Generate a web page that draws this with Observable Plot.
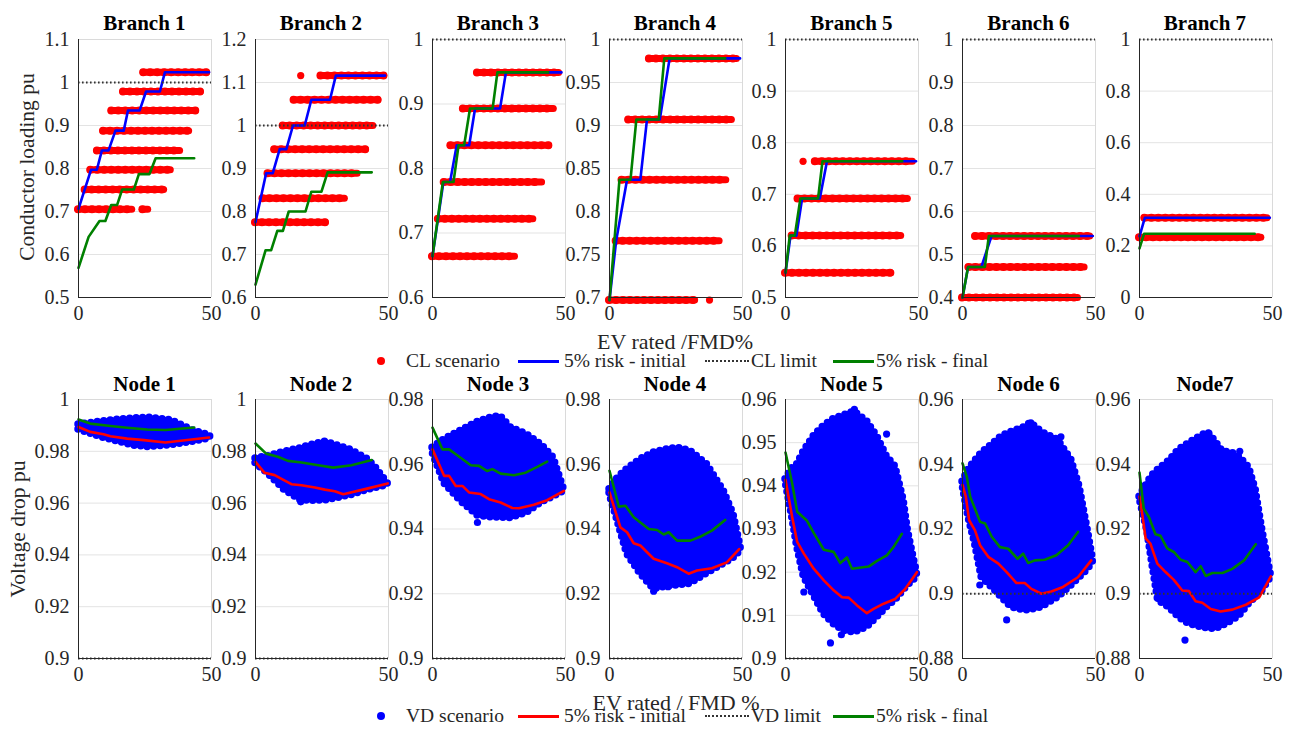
<!DOCTYPE html>
<html><head><meta charset="utf-8">
<script src="https://cdn.jsdelivr.net/npm/d3@7"></script>
<script src="https://cdn.jsdelivr.net/npm/@observablehq/plot@0.6"></script>
<style>
html,body{margin:0;padding:0;background:#fff;}
body{width:1298px;height:729px;position:relative;overflow:hidden;font-family:"Liberation Serif","Tinos","Times New Roman","DejaVu Serif",serif;color:#262626;}
.t{position:absolute;white-space:nowrap;line-height:1;}
svg{position:absolute;overflow:visible;}
</style></head><body>
<script>
// ---------------- DATA ----------------
const branchTitles = ["Branch 1","Branch 2","Branch 3","Branch 4","Branch 5","Branch 6","Branch 7"];
const nodeTitles = ["Node 1","Node 2","Node 3","Node 4","Node 5","Node 6","Node7"];
const xTicks = [0, 50];

// Branch y ticks
const b1Ticks = [0.5,0.6,0.7,0.8,0.9,1,1.1];
const b2Ticks = [0.6,0.7,0.8,0.9,1,1.1,1.2];
const b3Ticks = [0.6,0.7,0.8,0.9,1];
const b4Ticks = [0.7,0.75,0.8,0.85,0.9,0.95,1];
const b5Ticks = [0.5,0.6,0.7,0.8,0.9,1];
const b6Ticks = [0.4,0.5,0.6,0.7,0.8,0.9,1];
const b7Ticks = [0,0.2,0.4,0.6,0.8,1];
const clLimit = 1.0;

// CL scenario bands: [level, xStart, xEnd]
const b1Scen = [[0.705,0,20.2],[0.705,24.2,26.2],[0.751,2.5,32.2],[0.797,4.6,34.7],[0.842,7.1,38.2],[0.888,9.4,41.6],[0.935,12.5,44.1],[0.979,16.9,46],[1.024,24.5,48.3]];
const b2Scen = [[0.775,0,26.4],[0.831,2.8,33.6],[0.889,4.7,38.4],[0.945,7.2,41.5],[1.0,10.4,44.3],[1.06,14.5,46.2],[1.116,24.6,48.4]];
const b3Scen = [[0.664,0,31],[0.722,2.2,37.9],[0.779,4.4,41.2],[0.836,6.9,43.8],[0.893,11.6,45.6],[0.949,16.9,47.6]];
const b4Scen = [[0.697,0,32.2],[0.766,2.5,41.4],[0.837,4.7,43.9],[0.907,7.2,46],[0.978,15,47.9]];
const b5Scen = [[0.548,0,39.8],[0.620,2.5,43.5],[0.692,4.7,46],[0.764,11.2,47.9]];
const b6Scen = [[0.4,0,43.4],[0.471,2.4,45.9],[0.543,4.9,48]];
const b7Scen = [[0.234,0,45.8],[0.309,2,48.1]];
// isolated CL scenario points: [x, y]
const b2Single = [[17,1.116]];
const b4Single = [[37.6,0.697]];
const b5Single = [[6.6,0.764]];

// 5% risk - initial (blue) [x, y]
const b1Init = [[0,0.706],[4.7,0.797],[6.9,0.797],[8.8,0.842],[11.3,0.842],[13.9,0.888],[17,0.888],[18.6,0.935],[23,0.935],[25.4,0.979],[30.6,0.979],[32.5,1.024],[49.1,1.024]];
const b2Init = [[0,0.775],[4,0.889],[6.5,0.889],[9.1,0.945],[11.6,0.945],[14.1,1.0],[18.5,1.0],[21,1.06],[28,1.06],[30.2,1.116],[48.7,1.116]];
const b3Init = [[0,0.664],[4.1,0.779],[6.6,0.779],[9.1,0.836],[13.8,0.836],[16,0.893],[25.4,0.893],[27.6,0.949],[48.5,0.949]];
const b4Init = [[0,0.697],[2.5,0.766],[6.6,0.837],[11.6,0.837],[14.1,0.907],[18.9,0.907],[22.6,0.978],[49.1,0.978]];
const b5Init = [[0,0.548],[1.9,0.620],[4.1,0.620],[6.25,0.692],[12.9,0.692],[15.6,0.764],[49.1,0.764]];
const b6Init = [[0,0.4],[2.1,0.471],[7.1,0.471],[10.9,0.543],[49,0.543]];
const b7Init = [[0,0.237],[2,0.309],[49,0.309]];

// 5% risk - final (green) [x, y]
const b1Final = [[0,0.569],[3.8,0.641],[7.9,0.678],[10.1,0.678],[12.3,0.715],[14.5,0.715],[16.4,0.751],[20.8,0.751],[22.7,0.787],[26.7,0.787],[29,0.824],[43.5,0.824]];
const b2Final = [[0,0.63],[3.8,0.71],[5.9,0.71],[8.2,0.755],[10.3,0.755],[12.5,0.80],[18.8,0.80],[21,0.846],[24.8,0.846],[27.1,0.891],[43.7,0.891]];
const b3Final = [[0,0.664],[3.9,0.779],[7.9,0.779],[9.8,0.836],[11.9,0.836],[14.1,0.893],[22.6,0.893],[24.4,0.949],[43.5,0.949]];
const b4Final = [[0,0.697],[3.75,0.837],[7.9,0.837],[10.1,0.907],[18.5,0.907],[20.6,0.978],[43.5,0.978]];
const b5Final = [[0,0.548],[1.6,0.620],[3.5,0.620],[5.6,0.692],[12.25,0.692],[13.9,0.764],[43.9,0.764]];
const b6Final = [[0,0.4],[2.1,0.471],[8.4,0.471],[9.9,0.543],[43.75,0.543]];
const b7Final = [[0,0.19],[1.7,0.247],[43.3,0.247]];

// Node y ticks
const n1Ticks = [0.9,0.92,0.94,0.96,0.98,1];
const n2Ticks = [0.9,0.92,0.94,0.96,0.98,1];
const n3Ticks = [0.9,0.92,0.94,0.96,0.98];
const n4Ticks = [0.9,0.92,0.94,0.96,0.98];
const n5Ticks = [0.9,0.91,0.92,0.93,0.94,0.95,0.96];
const n6Ticks = [0.88,0.9,0.92,0.94,0.96];
const n7Ticks = [0.88,0.9,0.92,0.94,0.96];
const vdLimit = 0.9;

// VD scenario cloud envelope: x, lower, upper
const n1X  = [0, 8, 15, 21, 26, 35, 43, 49.5];
const n1Lo = [0.9884,0.9856,0.9837,0.9822,0.9817,0.9824,0.9837,0.985];
const n1Hi = [0.9903,0.9914,0.9922,0.9927,0.993,0.992,0.988,0.9862];
const n2X  = [0, 4.7, 11, 17, 21, 26, 30, 36, 42, 45, 49.7];
const n2Lo = [0.9753,0.9714,0.965,0.9611,0.9609,0.961,0.9618,0.9631,0.965,0.9658,0.9669];
const n2Hi = [0.9772,0.9781,0.9798,0.9812,0.9824,0.9837,0.9825,0.9805,0.977,0.974,0.9676];
const n3X  = [0, 4.5, 10.5, 17, 22, 25.5, 29.5, 35.5, 41, 45.5, 49.6];
const n3Lo = [0.9636,0.954,0.9487,0.9441,0.9436,0.9435,0.9434,0.945,0.9482,0.95,0.9518];
const n3Hi = [0.9651,0.9677,0.9703,0.9731,0.9744,0.9749,0.9713,0.9692,0.966,0.962,0.9518];
const n4X  = [0, 3, 6.6, 11.6, 16.6, 21.6, 25.4, 30.4, 36.6, 42.9, 46.6, 49.3];
const n4Lo = [0.9508,0.9426,0.9323,0.9262,0.9215,0.9222,0.9226,0.9231,0.9262,0.9292,0.931,0.9333];
const n4Hi = [0.9523,0.9557,0.9585,0.9615,0.9636,0.9646,0.9651,0.9641,0.96,0.9518,0.9446,0.9344];
const n5X  = [0, 2.5, 4.4, 6.9, 10.6, 14.4, 18.1, 21.9, 25.9, 30.6, 34.4, 38.1, 41.3, 44.4, 46, 48.1, 49.4];
const n5Lo = [0.941,0.9328,0.9258,0.9189,0.9146,0.9103,0.908,0.9064,0.906,0.9072,0.9095,0.9119,0.9135,0.9158,0.917,0.918,0.9193];
const n5Hi = [0.9415,0.9441,0.945,0.948,0.9515,0.9539,0.9555,0.9563,0.9572,0.955,0.9515,0.9468,0.9445,0.9367,0.9297,0.9235,0.92];
const n6X  = [0, 2.2, 4.7, 7.2, 11, 14.7, 18.4, 23.4, 25.7, 29.7, 35.9, 40.9, 44, 47.1, 49];
const n6Lo = [0.9336,0.9238,0.9155,0.9051,0.902,0.8989,0.8958,0.8948,0.895,0.8958,0.8989,0.9025,0.905,0.9075,0.9098];
const n6Hi = [0.9346,0.9383,0.941,0.9435,0.946,0.9486,0.95,0.9515,0.9528,0.95,0.9475,0.9414,0.9331,0.9196,0.9108];
const n7X  = [0, 2.9, 4.8, 7, 11.1, 14.8, 18.6, 23.6, 25.9, 28.6, 31.2, 34.9, 37.4, 41.2, 43.7, 46.2, 49.4];
const n7Lo = [0.9295,0.9196,0.9093,0.8979,0.8958,0.8927,0.8907,0.8896,0.8893,0.8891,0.89,0.8917,0.893,0.8969,0.899,0.901,0.9051];
const n7Hi = [0.93,0.9341,0.9365,0.9383,0.941,0.9445,0.9465,0.949,0.9497,0.947,0.944,0.9435,0.9424,0.939,0.932,0.9196,0.9057];
// isolated VD scenario points [x, y]
const n2Out = [[17,0.9605]];
const n3Out = [[16.9,0.942]];
const n4Out = [[16.6,0.9208],[22,0.9222]];
const n5Out = [[6.9,0.9154],[16.9,0.9036],[21,0.9055],[25.9,0.9577],[38,0.952]];
const n6Out = [[16.6,0.8919],[6.5,0.9027],[25.7,0.9528],[37,0.9485]];
const n7Out = [[17.1,0.8857],[7,0.8985],[25.9,0.9497],[37.7,0.944]];

// 5% risk - initial (red) [x, y]
const n1Init = [[0,0.9894],[4.4,0.9875],[9.4,0.9866],[12,0.9858],[18.3,0.9849],[24.6,0.9843],[32.7,0.9834],[49.1,0.9853]];
const n2Init = [[0,0.9759],[3.4,0.9717],[7.2,0.9708],[10.3,0.9691],[13.5,0.9673],[17.3,0.9669],[22.3,0.966],[26.1,0.9652],[29.8,0.9646],[33,0.9634],[41.2,0.9654],[49.7,0.9676]];
const n3Init = [[0,0.9646],[4.4,0.9564],[6.25,0.9564],[8.75,0.9533],[11.25,0.9533],[13.75,0.9513],[18.1,0.9508],[21.25,0.9492],[25.6,0.9482],[30,0.9465],[32.5,0.9464],[38.1,0.9475],[43.1,0.9489],[49.4,0.9518]];
const n4Init = [[0,0.9513],[4.1,0.9405],[6.6,0.939],[9.1,0.9356],[11.6,0.9349],[16.6,0.9308],[21.6,0.9294],[25.4,0.9282],[29.75,0.9262],[32.9,0.9272],[38.5,0.9279],[44.1,0.9297],[48.75,0.9338]];
const n5Init = [[0,0.9414],[1.25,0.9371],[2.5,0.9328],[4.4,0.927],[6.9,0.9243],[10.6,0.9208],[14.4,0.9181],[18.1,0.9158],[21.25,0.9142],[23.75,0.9141],[26.9,0.9123],[30.6,0.9105],[33.1,0.9115],[36.9,0.9127],[41.25,0.9138],[45,0.9161],[49.4,0.92]];
const n6Init = [[0,0.9336],[1.25,0.93],[2.5,0.9227],[4.7,0.9196],[6.6,0.915],[9.7,0.9114],[13.5,0.9093],[16.6,0.9067],[20.3,0.9033],[23.4,0.9033],[25.9,0.9015],[29.7,0.9],[33.4,0.9007],[37.8,0.9021],[43.4,0.9051],[48.4,0.9103]];
const n7Init = [[0,0.93],[1,0.9248],[2.3,0.9171],[4.1,0.9155],[6.7,0.9093],[9.8,0.9067],[12.9,0.9043],[16.1,0.901],[18.6,0.9008],[21.1,0.8977],[23.6,0.8972],[26.8,0.8953],[30.5,0.8945],[34.9,0.8951],[40,0.8966],[45,0.8989],[49.4,0.9054]];

// 5% risk - final (green) [x, y]
const n1Final = [[0,0.9923],[4.4,0.9907],[12,0.9898],[18.3,0.9891],[25.8,0.9884],[32.7,0.9882],[43.5,0.9892]];
const n2Final = [[0,0.983],[4,0.9791],[8.4,0.9779],[12.2,0.9763],[17.3,0.9757],[23.6,0.9746],[29.2,0.9737],[36.1,0.9746],[43.7,0.9766]];
const n3Final = [[0,0.9713],[3.75,0.9646],[6.25,0.9646],[8.75,0.9631],[14.4,0.9597],[17.5,0.9595],[20.6,0.9579],[22.5,0.9585],[25.6,0.9571],[30.6,0.9566],[35,0.9574],[39.4,0.9592],[43.1,0.9608]];
const n4Final = [[0,0.958],[3.5,0.9469],[6,0.9472],[9.1,0.9436],[14.75,0.94],[17.9,0.9397],[20.4,0.9383],[22.25,0.939],[25.4,0.9364],[30.4,0.9364],[34.1,0.9376],[38.5,0.9395],[43.5,0.9428]];
const n5Final = [[0,0.9477],[2.5,0.9406],[4.4,0.934],[8.1,0.9319],[10.6,0.9291],[14.4,0.9252],[18.1,0.9247],[20.6,0.9221],[23.1,0.9234],[25,0.9208],[31.25,0.9213],[34.4,0.9226],[38.1,0.9239],[40.6,0.9258],[43.75,0.9289]];
const n6Final = [[0,0.9403],[1.6,0.9362],[2.9,0.93],[6.6,0.9222],[8.5,0.9217],[11,0.9176],[14.1,0.9144],[17.2,0.9139],[20.7,0.9108],[22.8,0.9124],[24.7,0.9095],[27.2,0.9103],[30.9,0.9105],[35.3,0.9119],[39.7,0.915],[43.4,0.9191]];
const n7Final = [[0,0.9374],[1.6,0.9263],[3.5,0.9238],[6,0.9184],[7.9,0.9179],[10.4,0.914],[12.9,0.9129],[15.5,0.9105],[18,0.9098],[21.1,0.9067],[23,0.9085],[24.9,0.9055],[27.4,0.9064],[31.2,0.9064],[34.9,0.9077],[39.3,0.9103],[43.7,0.9153]];

// Legend labels
const topLegend = ["CL scenario","5% risk - initial","CL limit","5% risk - final"];
const botLegend = ["VD scenario","5% risk - initial","VD limit","5% risk - final"];
const topXLabel = "EV rated /FMD%";
const botXLabel = "EV rated / FMD %";
const topYLabel = "Conductor loading pu";
const botYLabel = "Voltage drop pu";

// ---------------- LAYOUT ----------------
const FONT = '"Liberation Serif","Tinos","Times New Roman","DejaVu Serif",serif';
const LEFTS = [78, 254.5, 431.5, 608.5, 785, 962, 1138.5];
const PW = 133;
const TOP1 = 39, PH1 = 258;
const TOP2 = 399, PH2 = 259;
const RED = "#ff0000", BLUE = "#0000ff", GREEN = "#008000", DOT = "#333333";
const fmt = d => String(+d.toFixed(3));
const mL = 70, mR = 20, mT = 12, mB = 40;

function frame(ticks, extra) {
  const dom = [ticks[0], ticks[ticks.length-1]];
  return {dom, marks: [
    Plot.gridY(ticks, {stroke:"#e3e3e3", strokeOpacity:1, strokeWidth:1}),
    Plot.ruleX([50], {stroke:"#dadada", strokeWidth:1}),
    Plot.ruleY([dom[1]], {stroke:"#dadada", strokeWidth:1}),
    ...extra,
    Plot.ruleX([0], {stroke:"#262626", strokeWidth:1}),
    Plot.ruleY([dom[0]], {stroke:"#262626", strokeWidth:1}),
    Plot.axisX(xTicks, {tickSize:0, tickPadding:8, tickFormat:d=>String(d), label:null, fill:"#262626", fontFamily:FONT, fontSize:20}),
    Plot.axisY(ticks, {tickSize:0, tickPadding:9, tickFormat:fmt, label:null, fill:"#262626", fontFamily:FONT, fontSize:20})
  ]};
}

function place(svg, left, top) {
  svg.style.left = (left - mL) + "px";
  svg.style.top = (top - mT) + "px";
  document.body.appendChild(svg);
}

function plotPanel(left, top, ph, ticks, extra) {
  const f = frame(ticks, extra);
  const svg = Plot.plot({
    width: PW + mL + mR, height: ph + mT + mB,
    marginLeft: mL, marginRight: mR, marginTop: mT, marginBottom: mB,
    x: {domain:[0,50]}, y: {domain:f.dom},
    style: {fontFamily:FONT, fontSize:"20px", background:"transparent", overflow:"visible"},
    marks: f.marks
  });
  place(svg, left, top);
}

const branches = [
  [b1Ticks, b1Scen, [], b1Init, b1Final],
  [b2Ticks, b2Scen, b2Single, b2Init, b2Final],
  [b3Ticks, b3Scen, [], b3Init, b3Final],
  [b4Ticks, b4Scen, b4Single, b4Init, b4Final],
  [b5Ticks, b5Scen, b5Single, b5Init, b5Final],
  [b6Ticks, b6Scen, [], b6Init, b6Final],
  [b7Ticks, b7Scen, [], b7Init, b7Final]
];
branches.forEach(([ticks, scen, single, init, fin], i) => {
  plotPanel(LEFTS[i], TOP1, PH1, ticks, [
    Plot.ruleY(scen, {y:d=>d[0], x1:d=>d[1], x2:d=>d[2], stroke:RED, strokeWidth:7, strokeLinecap:"round"}),
    Plot.ruleY(scen, {y:d=>d[0], x1:d=>d[1], x2:d=>d[2], stroke:RED, strokeWidth:8, strokeLinecap:"round", strokeDasharray:"0,7"}),
    Plot.dot(single, {x:d=>d[0], y:d=>d[1], r:3.6, fill:RED}),
    Plot.line(init, {x:d=>d[0], y:d=>d[1], stroke:BLUE, strokeWidth:2.6}),
    Plot.ruleY([clLimit], {x1:0, x2:50, stroke:DOT, strokeWidth:2, strokeDasharray:"1.6,2.4"}),
    Plot.line(fin, {x:d=>d[0], y:d=>d[1], stroke:GREEN, strokeWidth:2.6})
  ]);
});

const nodes = [
  [n1Ticks, n1X, n1Lo, n1Hi, [], n1Init, n1Final],
  [n2Ticks, n2X, n2Lo, n2Hi, n2Out, n2Init, n2Final],
  [n3Ticks, n3X, n3Lo, n3Hi, n3Out, n3Init, n3Final],
  [n4Ticks, n4X, n4Lo, n4Hi, n4Out, n4Init, n4Final],
  [n5Ticks, n5X, n5Lo, n5Hi, n5Out, n5Init, n5Final],
  [n6Ticks, n6X, n6Lo, n6Hi, n6Out, n6Init, n6Final],
  [n7Ticks, n7X, n7Lo, n7Hi, n7Out, n7Init, n7Final]
];
nodes.forEach(([ticks, xs, lo, hi, out, init, fin], i) => {
  const cloud = xs.map((x, k) => ({x, lo: lo[k], hi: hi[k]}));
  plotPanel(LEFTS[i], TOP2, PH2, ticks, [
    Plot.areaY(cloud, {x:"x", y1:"lo", y2:"hi", fill:BLUE, stroke:BLUE, strokeWidth:2, strokeLinejoin:"round"}),
    Plot.areaY(cloud, {x:"x", y1:"lo", y2:"hi", fill:"none", stroke:BLUE, strokeWidth:7.5, strokeLinecap:"round", strokeDasharray:"0,6.5"}),
    Plot.dot(out, {x:d=>d[0], y:d=>d[1], r:3.6, fill:BLUE}),
    Plot.line(init, {x:d=>d[0], y:d=>d[1], stroke:RED, strokeWidth:2.6}),
    Plot.ruleY([vdLimit], {x1:0, x2:50, stroke:DOT, strokeWidth:2, strokeDasharray:"1.6,2.4"}),
    Plot.line(fin, {x:d=>d[0], y:d=>d[1], stroke:GREEN, strokeWidth:2.6})
  ]);
});

// ---------------- TEXT ----------------
function txt(s, x, y, size, opt = {}) {
  const d = document.createElement("div");
  d.className = "t";
  d.textContent = s;
  d.style.fontFamily = FONT;
  d.style.fontSize = size + "px";
  d.style.left = x + "px";
  d.style.top = y + "px";
  d.style.transform = opt.tf || "translate(-50%,-50%)";
  if (opt.bold) { d.style.fontWeight = "bold"; d.style.color = "#000"; }
  document.body.appendChild(d);
  return d;
}
branchTitles.forEach((t, i) => txt(t, LEFTS[i] + PW/2, 23, 21, {bold:true}));
nodeTitles.forEach((t, i) => txt(t, LEFTS[i] + PW/2, 384, 21, {bold:true}));
txt(topYLabel, 28, 167, 21.5, {tf:"translate(-50%,-50%) rotate(-90deg)"});
txt(botYLabel, 19, 529, 21.5, {tf:"translate(-50%,-50%) rotate(-90deg)"});
txt(topXLabel, 675, 342, 22);
txt(botXLabel, 676, 703, 22);

function legend(labels, y, scenColor, initColor) {
  const dot = document.createElement("div");
  Object.assign(dot.style, {position:"absolute", left:"377px", top:(y-4)+"px", width:"8px", height:"8px", borderRadius:"50%", background:scenColor});
  document.body.appendChild(dot);
  const seg = (x, w, style) => {
    const s = document.createElement("div");
    Object.assign(s.style, {position:"absolute", left:x+"px", width:w+"px", top:(y-1)+"px"}, style);
    document.body.appendChild(s);
  };
  seg(518, 41, {height:"3px", background:initColor});
  seg(705, 44, {height:"0", borderTop:"2px dotted " + DOT});
  seg(833, 41, {height:"3px", background:GREEN});
  const xs = [406, 564, 751, 876];
  labels.forEach((l, i) => txt(l, xs[i], y, 19.5, {tf:"translate(0,-50%)"}));
}
legend(topLegend, 361, RED, BLUE);
legend(botLegend, 716, BLUE, RED);
</script>
</body></html>
